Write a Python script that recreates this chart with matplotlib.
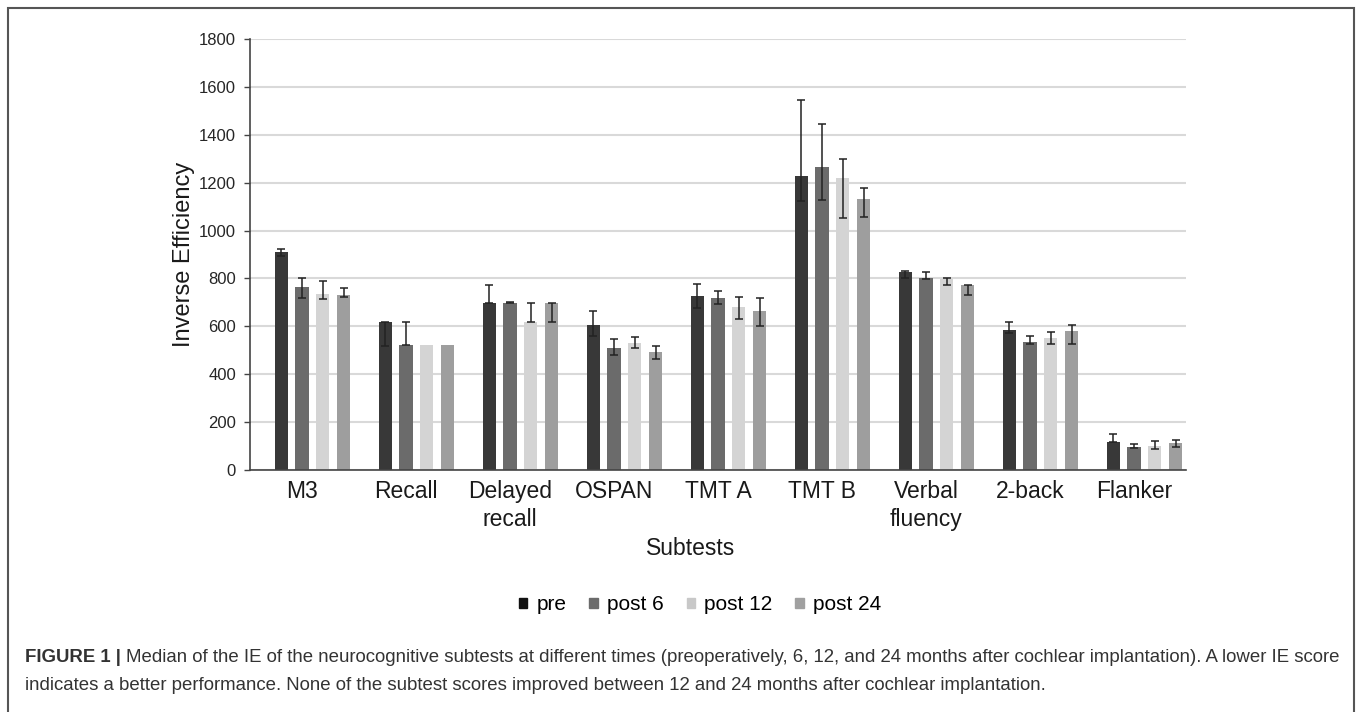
import numpy as np
import matplotlib.pyplot as plt
from matplotlib.patches import Patch, Rectangle

plt.rcParams['font.family'] = ['Liberation Sans', 'DejaVu Sans']

# Subtests and series (median inverse efficiency)
subtests = ['M3', 'Recall', 'Delayed\nrecall', 'OSPAN', 'TMT A', 'TMT B',
            'Verbal\nfluency', '2-back', 'Flanker']
series = ['pre', 'post 6', 'post 12', 'post 24']

pre = [910, 617, 699, 605, 728, 1229, 829, 585, 118]
post6 = [764, 520, 699, 508, 720, 1265, 800, 536, 97]
post12 = [735, 520, 617, 529, 679, 1218, 797, 550, 100]
post24 = [732, 520, 699, 491, 664, 1132, 771, 582, 114]

# error bar ends (lower / upper); nan = no error bar
pre_lo = [894, 519, 699, 561, 675, 1122, 800, 573, 115]
pre_hi = [925, 617, 771, 664, 778, 1546, 832, 618, 150]
post6_lo = [718, 520, 697, 479, 694, 1126, 797, 527, 93]
post6_hi = [800, 617, 701, 546, 749, 1446, 829, 561, 110]
post12_lo = [715, np.nan, 617, 508, 629, 1054, 771, 527, 89]
post12_hi = [789, np.nan, 699, 557, 724, 1297, 800, 578, 122]
post24_lo = [721, np.nan, 617, 463, 600, 1056, 731, 527, 95]
post24_hi = [760, np.nan, 699, 518, 720, 1176, 774, 605, 125]

colors = ['#383838', '#6b6b6b', '#d4d4d4', '#9e9e9e']
legend_colors = ['#111111', '#6b6b6b', '#c8c8c8', '#a0a0a0']

fig = plt.figure(figsize=(13.57, 7.12), dpi=100)
ax = fig.add_axes([250 / 1357, 1 - 470 / 712, 936 / 1357, 431 / 712])

x = np.arange(len(subtests))
offsets = [-0.2, 0.0, 0.2, 0.4]
width = 0.128

data = [pre, post6, post12, post24]
lows = [pre_lo, post6_lo, post12_lo, post24_lo]
highs = [pre_hi, post6_hi, post12_hi, post24_hi]

for vals, lo, hi, off, c in zip(data, lows, highs, offsets, colors):
    vals = np.array(vals, dtype=float)
    lo = np.array(lo, dtype=float)
    hi = np.array(hi, dtype=float)
    ax.bar(x + off, vals, width, color=c, zorder=2)
    m = ~np.isnan(lo)
    ax.errorbar(x[m] + off, vals[m], yerr=[vals[m] - lo[m], hi[m] - vals[m]],
                fmt='none', ecolor='#222222', elinewidth=1.1, capsize=3,
                capthick=1.1, zorder=3)

ax.set_xlim(-0.5, 8.5)
ax.set_ylim(0, 1800)
ax.set_yticks(np.arange(0, 1801, 200))
ax.yaxis.grid(True, color='#d9d9d9', linewidth=1.5, zorder=0)
ax.set_axisbelow(True)
ax.set_xticks(x)
ax.set_xticklabels(subtests, fontsize=16.5, color='#1a1a1a', linespacing=1.3)
ax.tick_params(axis='x', length=0, pad=7)
ax.tick_params(axis='y', length=4, width=1, color='#444444', labelsize=12,
               labelcolor='#262626', pad=6)
for s in ['top', 'right']:
    ax.spines[s].set_visible(False)
ax.spines['left'].set_color('#444444')
ax.spines['bottom'].set_color('#444444')
ax.spines['left'].set_linewidth(1.2)
ax.spines['bottom'].set_linewidth(1.2)

ax.set_ylabel('Inverse Efficiency', fontsize=17, color='#1a1a1a')
ax.yaxis.set_label_coords((195 - 250) / 936, 0.5)
ax.set_xlabel('Subtests', fontsize=16.5, color='#1a1a1a')
ax.xaxis.set_label_coords((691 - 250) / 936, -(537 - 470) / 431)

handles = [Patch(color=c) for c in legend_colors]
fig.legend(handles, series, loc='center', bbox_to_anchor=(700 / 1357, 1 - 605 / 712),
           ncol=4, frameon=False, fontsize=15, handlelength=0.4, handleheight=0.4,
           handletextpad=0.45, columnspacing=1.1)

# outer frame
fig.patches.append(Rectangle((8 / 1357, -0.05), 1346 / 1357, 1 - 8 / 712 + 0.05,
                             transform=fig.transFigure, fill=False,
                             edgecolor='#555555', linewidth=1.5))

t1 = fig.text(25 / 1357, 1 - 658 / 712, 'FIGURE 1 |', fontsize=13.4, fontweight='bold',
              color='#333333', va='center')
fig.canvas.draw()
bb = t1.get_window_extent()
fig.text((bb.x1 + 5) / 1357, 1 - 658 / 712,
         'Median of the IE of the neurocognitive subtests at different times '
         '(preoperatively, 6, 12, and 24 months after cochlear implantation). A lower IE score',
         fontsize=13.4, color='#333333', va='center')
fig.text(25 / 1357, 1 - 686 / 712,
         'indicates a better performance. None of the subtest scores improved between 12 and 24 '
         'months after cochlear implantation.',
         fontsize=13.4, color='#333333', va='center')

fig.savefig('out.png', dpi=100)
